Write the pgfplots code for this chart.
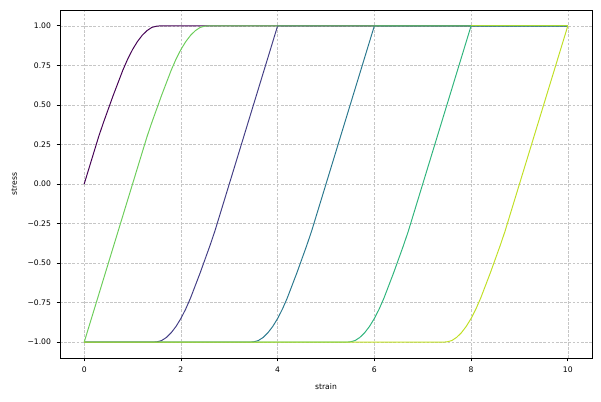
\documentclass[border=0pt]{standalone}
\usepackage{pgfplots}
\pgfplotsset{compat=1.18}
\usepackage{fontspec}
\setmainfont{DejaVu Sans}
\definecolor{c0}{HTML}{440154}
\definecolor{c1}{HTML}{433E85}
\definecolor{c2}{HTML}{2A788E}
\definecolor{c3}{HTML}{2FB47C}
\definecolor{c4}{HTML}{6CCD5A}
\definecolor{c5}{HTML}{C0DF25}
\begin{document}
\begin{tikzpicture}
\begin{axis}[
  scale only axis,
  width=383.04pt, height=250.56pt,
  xmin=-0.5, xmax=10.5, ymin=-1.1, ymax=1.1,
  axis line style={line width=0.6pt},
  xtick={0,2,4,6,8,10},
  xticklabels={0,2,4,6,8,10},
  ytick={-1,-0.75,-0.5,-0.25,0,0.25,0.5,0.75,1},
  yticklabels={−1.00,−0.75,−0.50,−0.25,0.00,0.25,0.50,0.75,1.00},
  tick align=outside,
  tick pos=left,
  major tick length=2.5pt,
  tick style={line width=0.5pt, black},
  tick label style={font=\fontsize{5.5}{6.5}\selectfont},
  xticklabel style={yshift=-0.5pt},
  yticklabel style={xshift=-0.5pt},
  grid=major,
  major grid style={gray!45, line width=0.4pt, dash pattern=on 2pt off 1pt},
  xlabel={strain}, ylabel={stress},
  label style={font=\fontsize{5.5}{6.5}\selectfont},
  xlabel style={at={(axis description cs:0.5,-0.0834)}, anchor=center},
  ylabel style={at={(axis description cs:-0.0862,0.5)}, anchor=center, rotate=0},
  every axis plot/.append style={line width=0.7pt, no markers},
  clip=true,
]
% loading from zero
\addplot[c0] coordinates {(0,0)(0.3,0.3)(0.4,0.39)(0.5,0.475)(0.6,0.56)(0.7,0.64)(0.8,0.72)(0.9,0.79)(1.0,0.85)(1.1,0.9)(1.2,0.94)(1.3,0.97)(1.4,0.99)(1.5,0.998)(1.6,1)(10,1)};
% rising to x=4
\addplot[c1] coordinates {(0,-1)(1.4,-1)(1.5,-0.998)(1.6,-0.99)(1.7,-0.97)(1.8,-0.94)(1.9,-0.9)(2.0,-0.85)(2.1,-0.79)(2.2,-0.72)(2.3,-0.64)(2.4,-0.56)(2.5,-0.475)(2.6,-0.39)(2.7,-0.3)(4,1)(10,1)};
% rising to x=6
\addplot[c2] coordinates {(0,-1)(3.4,-1)(3.5,-0.998)(3.6,-0.99)(3.7,-0.97)(3.8,-0.94)(3.9,-0.9)(4.0,-0.85)(4.1,-0.79)(4.2,-0.72)(4.3,-0.64)(4.4,-0.56)(4.5,-0.475)(4.6,-0.39)(4.7,-0.3)(6,1)(10,1)};
% rising to x=8
\addplot[c3] coordinates {(0,-1)(5.4,-1)(5.5,-0.998)(5.6,-0.99)(5.7,-0.97)(5.8,-0.94)(5.9,-0.9)(6.0,-0.85)(6.1,-0.79)(6.2,-0.72)(6.3,-0.64)(6.4,-0.56)(6.5,-0.475)(6.6,-0.39)(6.7,-0.3)(8,1)(10,1)};
% loading from -1
\addplot[c4] coordinates {(0,-1)(1.3,0.3)(1.4,0.39)(1.5,0.475)(1.6,0.56)(1.7,0.64)(1.8,0.72)(1.9,0.79)(2.0,0.85)(2.1,0.9)(2.2,0.94)(2.3,0.97)(2.4,0.99)(2.5,0.998)(2.6,1)(8,1)};
% rising to x=10
\addplot[c5] coordinates {(0,-1)(7.4,-1)(7.5,-0.998)(7.6,-0.99)(7.7,-0.97)(7.8,-0.94)(7.9,-0.9)(8.0,-0.85)(8.1,-0.79)(8.2,-0.72)(8.3,-0.64)(8.4,-0.56)(8.5,-0.475)(8.6,-0.39)(8.7,-0.3)(10,1)};
\addplot[c5!70!c4] coordinates {(8,1)(10,1)};
\end{axis}
\pgfresetboundingbox
\path[use as bounding box] ([shift={(-43.2pt,-30.96pt)}]current axis.south west) rectangle ([shift={(6.48pt,7.2pt)}]current axis.north east);
\end{tikzpicture}
\end{document}
